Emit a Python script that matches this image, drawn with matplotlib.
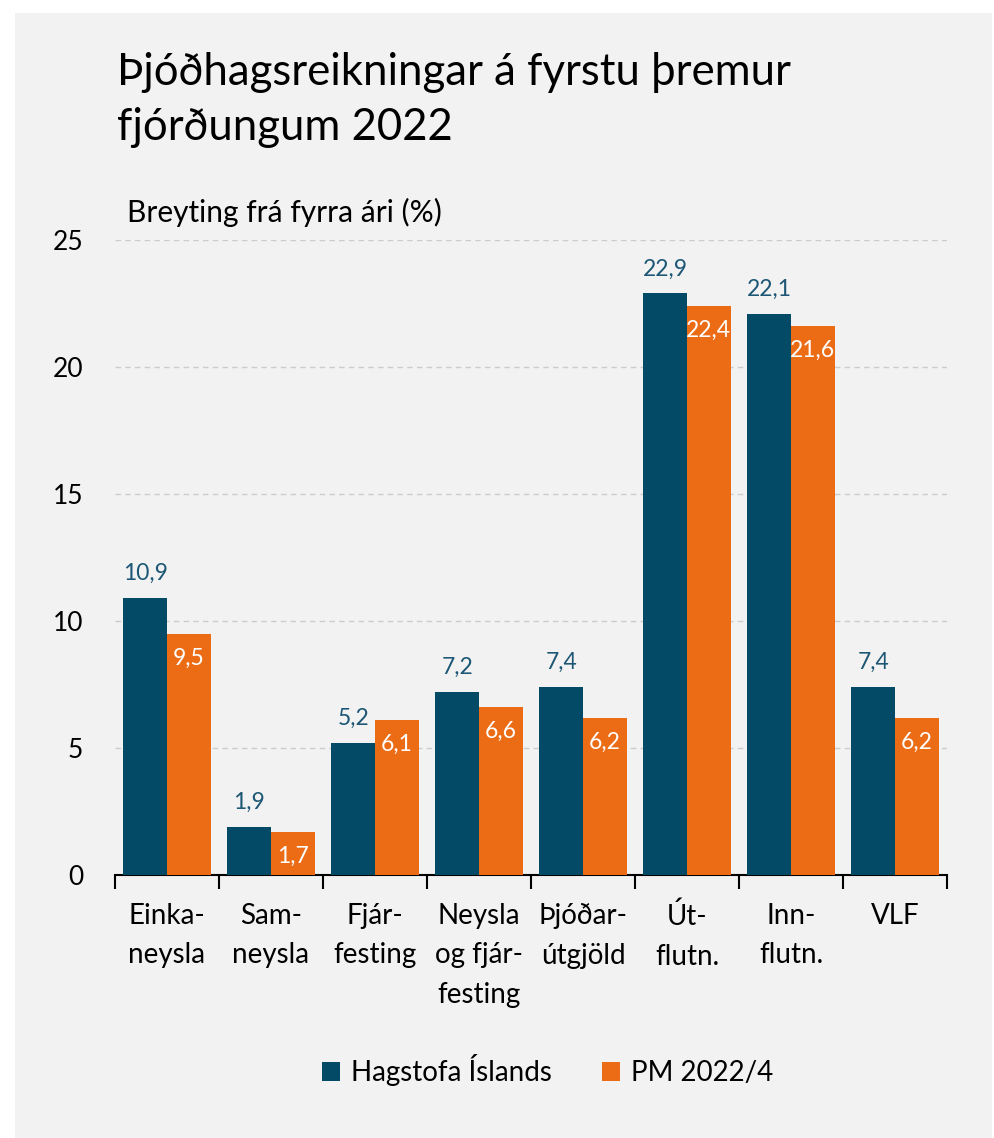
import matplotlib
matplotlib.use("Agg")
import matplotlib.pyplot as plt
from matplotlib.patches import Rectangle
import numpy as np

categories = ["Einka-\nneysla", "Sam-\nneysla", "Fjár-\nfesting", "Neysla\nog fjár-\nfesting",
              "Þjóðar-\nútgjöld", "Út-\nflutn.", "Inn-\nflutn.", "VLF"]
hagstofa = [10.9, 1.9, 5.2, 7.2, 7.4, 22.9, 22.1, 7.4]
pm = [9.5, 1.7, 6.1, 6.6, 6.2, 22.4, 21.6, 6.2]
labels_h = ["10,9", "1,9", "5,2", "7,2", "7,4", "22,9", "22,1", "7,4"]
labels_p = ["9,5", "1,7", "6,1", "6,6", "6,2", "22,4", "21,6", "6,2"]
series_names = ["Hagstofa Íslands", "PM 2022/4"]
yticks = [0, 5, 10, 15, 20, 25]

BLUE = "#024a66"
ORANGE = "#ec6c16"
BG = "#f2f2f2"
FONT = ["Lato", "DejaVu Sans"]
plt.rcParams["font.family"] = FONT

W, H = 995, 1138
fig = plt.figure(figsize=(W / 100, H / 100), dpi=100)
fig.patch.set_facecolor("white")
fig.add_artist(Rectangle((15 / W, 0), 1 - 18 / W, 1 - 13 / H, transform=fig.transFigure,
                         facecolor=BG, edgecolor="none", zorder=0))

ax = fig.add_axes([115 / W, 1 - 875 / H, 832 / W, 635 / H])
ax.set_facecolor(BG)
ax.patch.set_alpha(0)

x = np.arange(len(categories))
bw = 0.42
ax.bar(x - bw / 2, hagstofa, bw, color=BLUE, label=series_names[0], zorder=3)
ax.bar(x + bw / 2, pm, bw, color=ORANGE, label=series_names[1], zorder=3)

for i in range(len(categories)):
    ax.annotate(labels_h[i], (x[i] - bw / 2, hagstofa[i]), xytext=(0, 10), textcoords="offset points",
                ha="center", va="bottom", color="#1d5775", fontsize=16.5)
    ax.annotate(labels_p[i], (x[i] + bw / 2, pm[i]), xytext=(0, -10), textcoords="offset points",
                ha="center", va="top", color="white", fontsize=16.5, zorder=4)

ax.set_xlim(-0.5, len(categories) - 0.5)
ax.set_ylim(0, 25)
ax.set_yticks(yticks)
ax.set_yticklabels([str(v) for v in yticks], fontsize=19)
ax.yaxis.grid(True, linestyle=(0, (4, 3)), color="#cccccc", linewidth=1, zorder=0)
ax.tick_params(axis="y", length=0, pad=23)

ax.set_xticks(x)
ax.set_xticklabels(categories, fontsize=20, linespacing=1.65)
ax.tick_params(axis="x", length=0, pad=20)
ax.set_xticks(np.arange(-0.5, len(categories), 1), minor=True)
ax.tick_params(axis="x", which="minor", length=10, width=1.5, color="black", direction="out")

for s in ["top", "right", "left"]:
    ax.spines[s].set_visible(False)
ax.spines["bottom"].set_linewidth(1.5)
ax.spines["bottom"].set_color("black")

fig.text(117 / W, 1 - 100 / H, "Þjóðhagsreikningar á fyrstu þremur\nfjórðungum 2022", fontsize=31.5,
         va="center", ha="left", linespacing=1.45, color="black")
fig.text(127 / W, 1 - 212 / H, "Breyting frá fyrra ári (%)", fontsize=21.5, va="center", ha="left")

leg = fig.legend(loc="center", bbox_to_anchor=(0.55, 1 - 1070 / H), ncol=2, frameon=False,
                 fontsize=20, handlelength=0.65, handleheight=0.65, handletextpad=0.4, columnspacing=1.8)

fig.savefig("out.png", dpi=100, facecolor=fig.get_facecolor())
